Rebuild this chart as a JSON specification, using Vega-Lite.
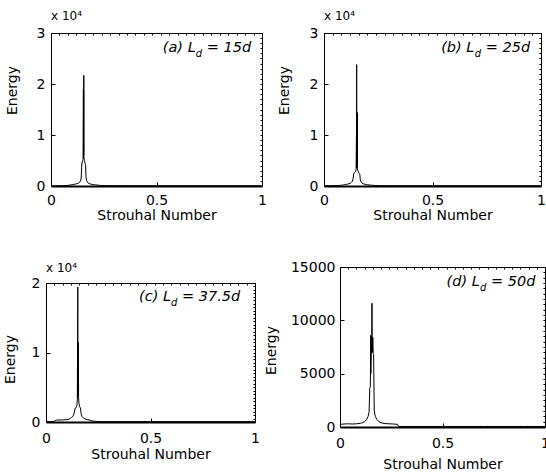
{
  "$schema": "https://vega.github.io/schema/vega-lite/v6.json",
  "autosize": {"type": "none"},
  "padding": {"left": 46, "top": 33, "right": 500, "bottom": 443},
  "background": "white",
  "datasets": {
    "a": [
      {"S": 0, "E": 60}, {"S": 0.02, "E": 40}, {"S": 0.04, "E": 50}, {"S": 0.06, "E": 70}, {"S": 0.08, "E": 120},
      {"S": 0.09, "E": 180}, {"S": 0.1, "E": 260}, {"S": 0.11, "E": 330}, {"S": 0.12, "E": 420}, {"S": 0.13, "E": 560},
      {"S": 0.135, "E": 700}, {"S": 0.14, "E": 1000}, {"S": 0.143, "E": 1600}, {"S": 0.146, "E": 4300}, {"S": 0.148, "E": 4700},
      {"S": 0.15, "E": 5000}, {"S": 0.152, "E": 5200}, {"S": 0.1535, "E": 19000}, {"S": 0.154, "E": 5500}, {"S": 0.1545, "E": 18700},
      {"S": 0.155, "E": 6000}, {"S": 0.1555, "E": 21700}, {"S": 0.156, "E": 5800}, {"S": 0.158, "E": 5000}, {"S": 0.16, "E": 4700},
      {"S": 0.162, "E": 4400}, {"S": 0.164, "E": 4000}, {"S": 0.166, "E": 1700}, {"S": 0.169, "E": 1100}, {"S": 0.172, "E": 800},
      {"S": 0.176, "E": 600}, {"S": 0.18, "E": 480}, {"S": 0.19, "E": 350}, {"S": 0.2, "E": 280}, {"S": 0.21, "E": 230},
      {"S": 0.22, "E": 180}, {"S": 0.23, "E": 130}, {"S": 0.24, "E": 90}, {"S": 0.26, "E": 70}, {"S": 0.3, "E": 60},
      {"S": 0.4, "E": 50}, {"S": 0.5, "E": 50}, {"S": 0.6, "E": 50}, {"S": 0.7, "E": 50}, {"S": 0.8, "E": 50},
      {"S": 0.9, "E": 50}, {"S": 1.0, "E": 50}
    ],
    "b": [
      {"S": 0, "E": 80}, {"S": 0.02, "E": 60}, {"S": 0.04, "E": 70}, {"S": 0.06, "E": 90}, {"S": 0.08, "E": 150},
      {"S": 0.09, "E": 220}, {"S": 0.1, "E": 300}, {"S": 0.11, "E": 380}, {"S": 0.12, "E": 500}, {"S": 0.125, "E": 650},
      {"S": 0.13, "E": 900}, {"S": 0.134, "E": 1400}, {"S": 0.137, "E": 2400}, {"S": 0.14, "E": 2600}, {"S": 0.143, "E": 2700},
      {"S": 0.146, "E": 2900}, {"S": 0.148, "E": 3200}, {"S": 0.1495, "E": 9700}, {"S": 0.15, "E": 3500}, {"S": 0.1505, "E": 23800},
      {"S": 0.151, "E": 4000}, {"S": 0.1515, "E": 14500}, {"S": 0.152, "E": 5000}, {"S": 0.1525, "E": 14300}, {"S": 0.153, "E": 4500},
      {"S": 0.1535, "E": 14000}, {"S": 0.154, "E": 3500}, {"S": 0.156, "E": 3000}, {"S": 0.159, "E": 2700}, {"S": 0.162, "E": 2500},
      {"S": 0.165, "E": 2300}, {"S": 0.167, "E": 1300}, {"S": 0.17, "E": 900}, {"S": 0.175, "E": 600}, {"S": 0.18, "E": 450},
      {"S": 0.19, "E": 320}, {"S": 0.2, "E": 240}, {"S": 0.22, "E": 150}, {"S": 0.24, "E": 90}, {"S": 0.26, "E": 60},
      {"S": 0.3, "E": 50}, {"S": 0.4, "E": 50}, {"S": 0.5, "E": 50}, {"S": 0.6, "E": 50}, {"S": 0.7, "E": 50},
      {"S": 0.8, "E": 50}, {"S": 0.9, "E": 50}, {"S": 1.0, "E": 50}
    ],
    "c": [
      {"S": 0, "E": 60}, {"S": 0.02, "E": 50}, {"S": 0.04, "E": 100}, {"S": 0.05, "E": 280}, {"S": 0.08, "E": 300},
      {"S": 0.1, "E": 350}, {"S": 0.11, "E": 400}, {"S": 0.12, "E": 600}, {"S": 0.13, "E": 900}, {"S": 0.135, "E": 1300},
      {"S": 0.14, "E": 2000}, {"S": 0.145, "E": 2100}, {"S": 0.148, "E": 2400}, {"S": 0.15, "E": 3300}, {"S": 0.1505, "E": 7800},
      {"S": 0.151, "E": 3500}, {"S": 0.152, "E": 19400}, {"S": 0.1525, "E": 4000}, {"S": 0.153, "E": 11500}, {"S": 0.1535, "E": 4500},
      {"S": 0.154, "E": 11300}, {"S": 0.1545, "E": 7900}, {"S": 0.155, "E": 11000}, {"S": 0.156, "E": 3500}, {"S": 0.158, "E": 2600},
      {"S": 0.161, "E": 2200}, {"S": 0.165, "E": 2000}, {"S": 0.168, "E": 1200}, {"S": 0.172, "E": 800}, {"S": 0.18, "E": 550},
      {"S": 0.19, "E": 400}, {"S": 0.2, "E": 320}, {"S": 0.21, "E": 280}, {"S": 0.22, "E": 150}, {"S": 0.24, "E": 80},
      {"S": 0.26, "E": 60}, {"S": 0.3, "E": 50}, {"S": 0.4, "E": 50}, {"S": 0.5, "E": 50}, {"S": 0.6, "E": 50},
      {"S": 0.7, "E": 50}, {"S": 0.8, "E": 50}, {"S": 0.9, "E": 50}, {"S": 1.0, "E": 50}
    ],
    "d": [
      {"S": 0, "E": 250}, {"S": 0.02, "E": 280}, {"S": 0.04, "E": 300}, {"S": 0.06, "E": 280}, {"S": 0.08, "E": 300},
      {"S": 0.1, "E": 350}, {"S": 0.11, "E": 400}, {"S": 0.12, "E": 500}, {"S": 0.13, "E": 700}, {"S": 0.137, "E": 1000},
      {"S": 0.142, "E": 1400}, {"S": 0.145, "E": 3600}, {"S": 0.148, "E": 3800}, {"S": 0.15, "E": 8600}, {"S": 0.1505, "E": 5000},
      {"S": 0.152, "E": 7000}, {"S": 0.153, "E": 8500}, {"S": 0.154, "E": 6900}, {"S": 0.155, "E": 8600}, {"S": 0.156, "E": 11600},
      {"S": 0.157, "E": 8000}, {"S": 0.158, "E": 7000}, {"S": 0.16, "E": 8400}, {"S": 0.162, "E": 6900}, {"S": 0.164, "E": 6800},
      {"S": 0.167, "E": 1500}, {"S": 0.172, "E": 1000}, {"S": 0.18, "E": 700}, {"S": 0.19, "E": 500}, {"S": 0.2, "E": 400},
      {"S": 0.22, "E": 320}, {"S": 0.24, "E": 300}, {"S": 0.26, "E": 280}, {"S": 0.28, "E": 250}, {"S": 0.285, "E": 60},
      {"S": 0.3, "E": 50}, {"S": 0.4, "E": 50}, {"S": 0.5, "E": 50}, {"S": 0.6, "E": 50}, {"S": 0.7, "E": 50},
      {"S": 0.8, "E": 50}, {"S": 0.9, "E": 50}, {"S": 1.0, "E": 50}
    ]
  },
  "columns": 2,
  "bounds": "flush",
  "spacing": {"row": 81, "column": 62},
  "concat": [
    {
      "width": 216, "height": 153,
      "title": {"text": "x 10⁴", "anchor": "start", "frame": "group", "dx": 5, "fontSize": 12, "fontWeight": "normal", "font": "DejaVu Sans", "offset": 3, "color": "black"},
      "layer": [
        {
          "data": {"name": "a"},
          "mark": {"type": "line", "color": "black", "strokeWidth": 1, "clip": true},
          "encoding": {
            "x": {"field": "S", "type": "quantitative", "scale": {"domain": [0, 1], "range": [5, 216], "nice": false, "zero": false},
              "axis": {"orient": "bottom", "values": [0, 0.5, 1], "format": "~g", "labelFlush": false, "title": "Strouhal Number", "tickSize": -4, "labelPadding": 11, "titleY": 22, "titleX": 110.5, "titleBaseline": "top", "domainWidth": 2}},
            "y": {"field": "E", "type": "quantitative", "scale": {"domain": [0, 30000], "nice": false},
              "axis": {"orient": "left", "offset": -5, "values": [0, 10000, 20000, 30000], "labelExpr": "format(datum.value / 10000, 'd')", "title": "Energy", "tickSize": -4, "labelPadding": 10, "titleX": -32, "titleY": 57, "titleAngle": 270, "titleBaseline": "bottom", "titleAlign": "center"}}
          }
        },
        {
          "data": {"values": [{}]},
          "mark": {"type": "text", "text": "(a) L", "align": "left", "baseline": "middle", "fontStyle": "italic", "fontSize": 14.5, "font": "DejaVu Sans", "color": "black"},
          "encoding": {
            "x": {"datum": 0.53, "type": "quantitative", "scale": {"domain": [0, 1], "range": [5, 216], "nice": false, "zero": false},
              "axis": {"orient": "top", "values": [0,0.04,0.08,0.12,0.16,0.2,0.24,0.28,0.32,0.36,0.4,0.44,0.48,0.52,0.56,0.6,0.64,0.68,0.72,0.76,0.8,0.84,0.88,0.92,0.96,1], "labels": false, "tickSize": -2, "title": null}},
            "y": {"datum": 27000, "type": "quantitative", "scale": {"domain": [0, 30000], "nice": false},
              "axis": {"orient": "right", "values": [0,1000,2000,3000,4000,5000,6000,7000,8000,9000,10000,11000,12000,13000,14000,15000,16000,17000,18000,19000,20000,21000,22000,23000,24000,25000,26000,27000,28000,29000,30000], "labels": false, "tickSize": -2, "title": null}}
          }
        },
        {
          "data": {"values": [{}]},
          "mark": {"type": "text", "text": "d", "align": "left", "baseline": "middle", "fontStyle": "italic", "fontSize": 10, "font": "DejaVu Sans", "color": "black", "dx": 33, "dy": 6},
          "encoding": {
            "x": {"datum": 0.53, "type": "quantitative", "axis": null},
            "y": {"datum": 27000, "type": "quantitative", "axis": null}
          }
        },
        {
          "data": {"values": [{}]},
          "mark": {"type": "text", "text": "= 15d", "align": "left", "baseline": "middle", "fontStyle": "italic", "fontSize": 14.5, "font": "DejaVu Sans", "color": "black", "dx": 44},
          "encoding": {
            "x": {"datum": 0.53, "type": "quantitative", "axis": null},
            "y": {"datum": 27000, "type": "quantitative", "axis": null}
          }
        }
      ],
      "resolve": {"axis": {"x": "independent", "y": "independent"}}
    },
    {
      "width": 217, "height": 153,
      "title": {"text": "x 10⁴", "anchor": "start", "frame": "group", "fontSize": 12, "fontWeight": "normal", "font": "DejaVu Sans", "offset": 3, "color": "black"},
      "layer": [
        {
          "data": {"name": "b"},
          "mark": {"type": "line", "color": "black", "strokeWidth": 1, "clip": true},
          "encoding": {
            "x": {"field": "S", "type": "quantitative", "scale": {"domain": [0, 1], "nice": false, "zero": false},
              "axis": {"orient": "bottom", "values": [0, 0.5, 1], "format": "~g", "labelFlush": false, "title": "Strouhal Number", "tickSize": -4, "labelPadding": 11, "titleY": 22, "titleBaseline": "top", "domainWidth": 2}},
            "y": {"field": "E", "type": "quantitative", "scale": {"domain": [0, 30000], "nice": false},
              "axis": {"orient": "left", "values": [0, 10000, 20000, 30000], "labelExpr": "format(datum.value / 10000, 'd')", "title": "Energy", "tickSize": -4, "labelPadding": 10, "titleX": -33, "titleY": 57, "titleAngle": 270, "titleBaseline": "bottom", "titleAlign": "center"}}
          }
        },
        {
          "data": {"values": [{}]},
          "mark": {"type": "text", "text": "(b) L", "align": "left", "baseline": "middle", "fontStyle": "italic", "fontSize": 14.5, "font": "DejaVu Sans", "color": "black"},
          "encoding": {
            "x": {"datum": 0.54, "type": "quantitative", "scale": {"domain": [0, 1], "nice": false, "zero": false},
              "axis": {"orient": "top", "values": [0,0.04,0.08,0.12,0.16,0.2,0.24,0.28,0.32,0.36,0.4,0.44,0.48,0.52,0.56,0.6,0.64,0.68,0.72,0.76,0.8,0.84,0.88,0.92,0.96,1], "labels": false, "tickSize": -2, "title": null}},
            "y": {"datum": 27000, "type": "quantitative", "scale": {"domain": [0, 30000], "nice": false},
              "axis": {"orient": "right", "values": [0,1000,2000,3000,4000,5000,6000,7000,8000,9000,10000,11000,12000,13000,14000,15000,16000,17000,18000,19000,20000,21000,22000,23000,24000,25000,26000,27000,28000,29000,30000], "labels": false, "tickSize": -2, "title": null}}
          }
        },
        {
          "data": {"values": [{}]},
          "mark": {"type": "text", "text": "d", "align": "left", "baseline": "middle", "fontStyle": "italic", "fontSize": 10, "font": "DejaVu Sans", "color": "black", "dx": 33.5, "dy": 6},
          "encoding": {
            "x": {"datum": 0.54, "type": "quantitative", "axis": null},
            "y": {"datum": 27000, "type": "quantitative", "axis": null}
          }
        },
        {
          "data": {"values": [{}]},
          "mark": {"type": "text", "text": "= 25d", "align": "left", "baseline": "middle", "fontStyle": "italic", "fontSize": 14.5, "font": "DejaVu Sans", "color": "black", "dx": 44.5},
          "encoding": {
            "x": {"datum": 0.54, "type": "quantitative", "axis": null},
            "y": {"datum": 27000, "type": "quantitative", "axis": null}
          }
        }
      ],
      "resolve": {"axis": {"x": "independent", "y": "independent"}}
    },
    {
      "width": 209, "height": 155,
      "title": {"text": "x 10⁴", "anchor": "start", "frame": "group", "fontSize": 12, "fontWeight": "normal", "font": "DejaVu Sans", "offset": -8, "color": "black"},
      "layer": [
        {
          "data": {"name": "c"},
          "mark": {"type": "line", "color": "black", "strokeWidth": 1, "clip": true},
          "encoding": {
            "x": {"field": "S", "type": "quantitative", "scale": {"domain": [0, 1], "nice": false, "zero": false},
              "axis": {"orient": "bottom", "values": [0, 0.5, 1], "format": "~g", "labelFlush": false, "title": "Strouhal Number", "tickSize": -4, "labelPadding": 13, "titleY": 25, "titleBaseline": "top", "domainWidth": 2}},
            "y": {"field": "E", "type": "quantitative", "scale": {"domain": [0, 20000], "range": [155, 16], "nice": false},
              "axis": {"orient": "left", "values": [0, 10000, 20000], "labelExpr": "format(datum.value / 10000, 'd')", "title": "Energy", "tickSize": -4, "labelPadding": 10, "titleX": -29, "titleY": 92, "titleAngle": 270, "titleBaseline": "bottom", "titleAlign": "center"}}
          }
        },
        {
          "data": {"values": [{}]},
          "mark": {"type": "text", "text": "(c) L", "align": "left", "baseline": "middle", "fontStyle": "italic", "fontSize": 14.5, "font": "DejaVu Sans", "color": "black"},
          "encoding": {
            "x": {"datum": 0.445, "type": "quantitative", "scale": {"domain": [0, 1], "nice": false, "zero": false},
              "axis": {"orient": "top", "offset": -16, "values": [0,0.04,0.08,0.12,0.16,0.2,0.24,0.28,0.32,0.36,0.4,0.44,0.48,0.52,0.56,0.6,0.64,0.68,0.72,0.76,0.8,0.84,0.88,0.92,0.96,1], "labels": false, "tickSize": -2, "title": null}},
            "y": {"datum": 18000, "type": "quantitative", "scale": {"domain": [0, 20000], "range": [155, 16], "nice": false},
              "axis": {"orient": "right", "values": [0,500,1000,1500,2000,2500,3000,3500,4000,4500,5000,5500,6000,6500,7000,7500,8000,8500,9000,9500,10000,10500,11000,11500,12000,12500,13000,13500,14000,14500,15000,15500,16000,16500,17000,17500,18000,18500,19000,19500,20000], "labels": false, "tickSize": -2, "title": null}}
          }
        },
        {
          "data": {"values": [{}]},
          "mark": {"type": "text", "text": "d", "align": "left", "baseline": "middle", "fontStyle": "italic", "fontSize": 10, "font": "DejaVu Sans", "color": "black", "dx": 32, "dy": 6},
          "encoding": {
            "x": {"datum": 0.445, "type": "quantitative", "axis": null},
            "y": {"datum": 18000, "type": "quantitative", "axis": null}
          }
        },
        {
          "data": {"values": [{}]},
          "mark": {"type": "text", "text": "= 37.5d", "align": "left", "baseline": "middle", "fontStyle": "italic", "fontSize": 14.5, "font": "DejaVu Sans", "color": "black", "dx": 43},
          "encoding": {
            "x": {"datum": 0.445, "type": "quantitative", "axis": null},
            "y": {"datum": 18000, "type": "quantitative", "axis": null}
          }
        }
      ],
      "resolve": {"axis": {"x": "independent", "y": "independent"}}
    },
    {
      "width": 221, "height": 160,
      "layer": [
        {
          "data": {"name": "d"},
          "mark": {"type": "line", "color": "black", "strokeWidth": 1, "clip": true},
          "encoding": {
            "x": {"field": "S", "type": "quantitative", "scale": {"domain": [0, 1], "range": [16, 221], "nice": false, "zero": false},
              "axis": {"orient": "bottom", "values": [0, 0.5, 1], "format": "~g", "labelFlush": false, "title": "Strouhal Number", "tickSize": -4, "labelPadding": 13, "titleY": 30, "titleX": 118.5, "titleBaseline": "top", "domainWidth": 2}},
            "y": {"field": "E", "type": "quantitative", "scale": {"domain": [0, 15000], "nice": false},
              "axis": {"orient": "left", "offset": -16, "values": [0, 5000, 10000, 15000], "format": "d", "title": "Energy", "tickSize": -4, "labelPadding": 9, "titleX": -62, "titleY": 83, "titleAngle": 270, "titleBaseline": "bottom", "titleAlign": "center"}}
          }
        },
        {
          "data": {"values": [{}]},
          "mark": {"type": "text", "text": "(d) L", "align": "left", "baseline": "middle", "fontStyle": "italic", "fontSize": 14.5, "font": "DejaVu Sans", "color": "black"},
          "encoding": {
            "x": {"datum": 0.52, "type": "quantitative", "scale": {"domain": [0, 1], "range": [16, 221], "nice": false, "zero": false},
              "axis": {"orient": "top", "values": [0,0.04,0.08,0.12,0.16,0.2,0.24,0.28,0.32,0.36,0.4,0.44,0.48,0.52,0.56,0.6,0.64,0.68,0.72,0.76,0.8,0.84,0.88,0.92,0.96,1], "labels": false, "tickSize": -2, "title": null}},
            "y": {"datum": 13600, "type": "quantitative", "scale": {"domain": [0, 15000], "nice": false},
              "axis": {"orient": "right", "values": [0,500,1000,1500,2000,2500,3000,3500,4000,4500,5000,5500,6000,6500,7000,7500,8000,8500,9000,9500,10000,10500,11000,11500,12000,12500,13000,13500,14000,14500,15000], "labels": false, "tickSize": -2, "title": null}}
          }
        },
        {
          "data": {"values": [{}]},
          "mark": {"type": "text", "text": "d", "align": "left", "baseline": "middle", "fontStyle": "italic", "fontSize": 10, "font": "DejaVu Sans", "color": "black", "dx": 33.5, "dy": 6},
          "encoding": {
            "x": {"datum": 0.52, "type": "quantitative", "axis": null},
            "y": {"datum": 13600, "type": "quantitative", "axis": null}
          }
        },
        {
          "data": {"values": [{}]},
          "mark": {"type": "text", "text": "= 50d", "align": "left", "baseline": "middle", "fontStyle": "italic", "fontSize": 14.5, "font": "DejaVu Sans", "color": "black", "dx": 44.5},
          "encoding": {
            "x": {"datum": 0.52, "type": "quantitative", "axis": null},
            "y": {"datum": 13600, "type": "quantitative", "axis": null}
          }
        }
      ],
      "resolve": {"axis": {"x": "independent", "y": "independent"}}
    }
  ],
  "config": {
    "font": "DejaVu Sans",
    "view": {"stroke": null},
    "axis": {
      "grid": false,
      "labelFont": "DejaVu Sans",
      "labelFontSize": 14,
      "labelColor": "black",
      "titleFont": "DejaVu Sans",
      "titleFontSize": 14,
      "titleFontWeight": "normal",
      "titleColor": "black",
      "tickColor": "black",
      "tickWidth": 1,
      "domainColor": "black",
      "domainWidth": 1
    }
  }
}
